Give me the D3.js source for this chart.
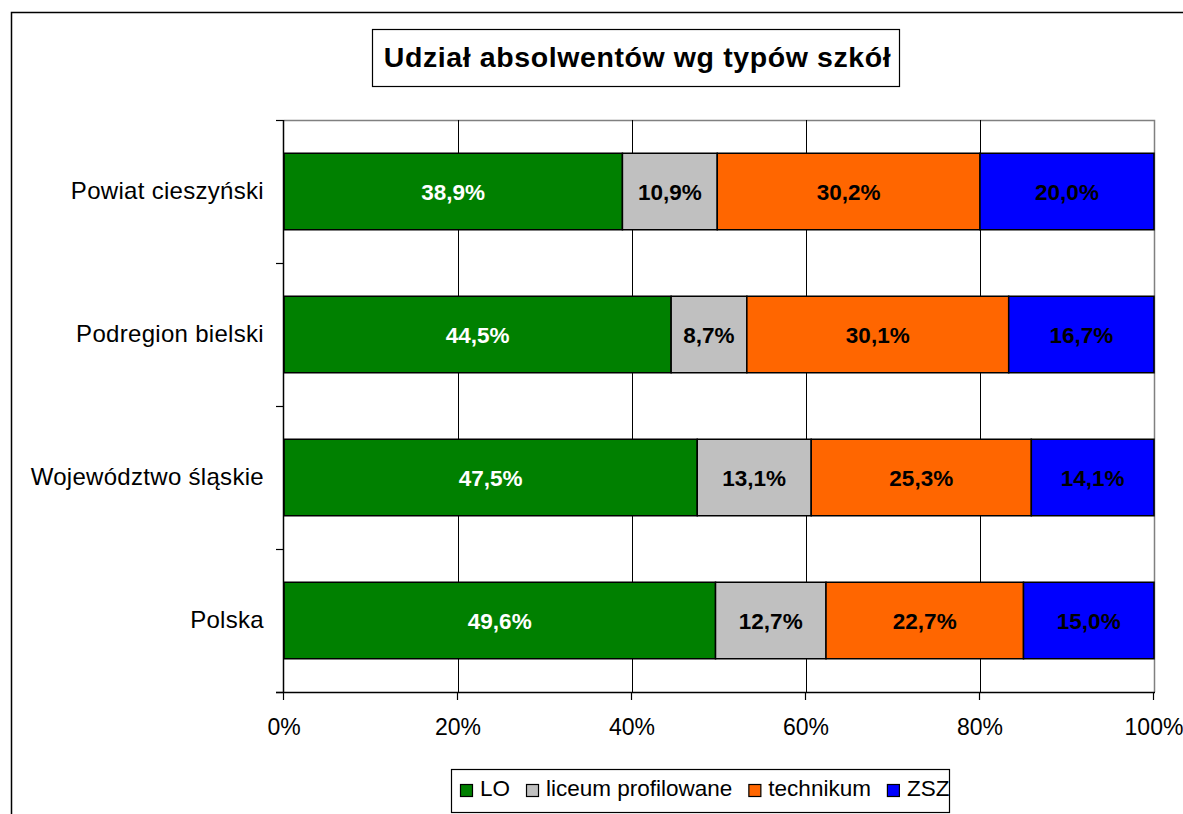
<!DOCTYPE html>
<html>
<head>
<meta charset="utf-8">
<script src="https://cdn.jsdelivr.net/npm/d3@7"></script>
<style>
  html, body { margin: 0; padding: 0; background: #fff; }
  svg { display: block; font-family: "Liberation Sans", Arial, sans-serif; }
</style>
</head>
<body>
<svg id="chart" width="1183" height="814"></svg>
<script>
const title = "Udział absolwentów wg typów szkół";
const categories = ["Powiat cieszyński", "Podregion bielski", "Województwo śląskie", "Polska"];
const seriesNames = ["LO", "liceum profilowane", "technikum", "ZSZ"];
const seriesColors = ["#008000", "#C0C0C0", "#FF6600", "#0000FF"];
const labelColors = ["#FFFFFF", "#000000", "#000000", "#000000"];
const LO = [38.9, 44.5, 47.5, 49.6];
const liceumProfilowane = [10.9, 8.7, 13.1, 12.7];
const technikum = [30.2, 30.1, 25.3, 22.7];
const ZSZ = [20.0, 16.7, 14.1, 15.0];
const tickValues = [0, 20, 40, 60, 80, 100];

const seriesValues = [LO, liceumProfilowane, technikum, ZSZ];

(function () {
const svg = d3.select("#chart");
const W = 1183, H = 814;

// outer chart border
svg.append("path")
  .attr("d", `M11.5,${H} L11.5,12.5 L${W},12.5`)
  .attr("fill", "none").attr("stroke", "#000").attr("stroke-width", 1.5);

// title
const tg = svg.append("g");
tg.append("rect").attr("x", 372.5).attr("y", 29.5).attr("width", 527).attr("height", 57)
  .attr("fill", "#fff").attr("stroke", "#000").attr("stroke-width", 1.2);
tg.append("text").attr("x", 637.5).attr("y", 66.5).attr("text-anchor", "middle")
  .attr("font-size", 28.5).attr("font-weight", "bold").attr("fill", "#000")
  .attr("letter-spacing", 0.6).text(title);

// scales
const pLeft = 284, pRight = 1154, pTop = 120, pBottom = 692;
const x = d3.scaleLinear().domain([0, 100]).range([pLeft, pRight]);
const y = d3.scaleBand().domain(categories).range([pTop, pBottom])
  .paddingInner(0.465).paddingOuter(0.2325);
const zone = d3.scaleBand().domain(categories).range([pTop, pBottom]).padding(0);

// plot area frame (top & right, gray)
svg.append("path")
  .attr("d", `M${pLeft},${pTop + 0.5} L${pRight + 0.5},${pTop + 0.5} L${pRight + 0.5},${pBottom}`)
  .attr("fill", "none").attr("stroke", "#808080").attr("stroke-width", 1.5);

// vertical gridlines
svg.append("g").selectAll("line").data(tickValues.filter(v => v > 0 && v < 100)).join("line")
  .attr("x1", d => Math.round(x(d)) + 0.5).attr("x2", d => Math.round(x(d)) + 0.5)
  .attr("y1", pTop).attr("y2", pBottom)
  .attr("stroke", "#000").attr("stroke-width", 1);

// stacked data
const stackData = categories.map((c, i) => {
  const o = { cat: c };
  seriesNames.forEach((s, j) => o[s] = seriesValues[j][i]);
  return o;
});
const stacked = d3.stack().keys(seriesNames)(stackData);

const bars = svg.append("g");
stacked.forEach((layer, j) => {
  const g = bars.append("g");
  g.selectAll("rect").data(layer).join("rect")
    .attr("x", d => x(d[0]))
    .attr("y", d => y(d.data.cat))
    .attr("width", d => x(d[1]) - x(d[0]))
    .attr("height", y.bandwidth())
    .attr("fill", seriesColors[j])
    .attr("stroke", "#000").attr("stroke-width", 1.5);
  g.selectAll("text").data(layer).join("text")
    .attr("x", d => (x(d[0]) + x(d[1])) / 2)
    .attr("y", d => y(d.data.cat) + y.bandwidth() / 2 + 8)
    .attr("text-anchor", "middle")
    .attr("font-size", 22.5).attr("font-weight", "bold")
    .attr("fill", labelColors[j])
    .text(d => d.data[seriesNames[j]].toFixed(1).replace(".", ",") + "%");
});

// y axis (left)
const yAxis = svg.append("g");
yAxis.append("line").attr("x1", pLeft - 0.5).attr("x2", pLeft - 0.5).attr("y1", pTop).attr("y2", pBottom)
  .attr("stroke", "#000").attr("stroke-width", 1.5);
const boundaries = categories.map(c => zone(c)).concat([pBottom]);
yAxis.selectAll("line.tk").data(boundaries).join("line").attr("class", "tk")
  .attr("x1", pLeft - 8).attr("x2", pLeft).attr("y1", d => d + 0.5).attr("y2", d => d + 0.5)
  .attr("stroke", "#000").attr("stroke-width", 1.2);
yAxis.selectAll("text").data(categories).join("text")
  .attr("x", 264).attr("y", d => zone(d) + zone.bandwidth() / 2 + 7.5)
  .attr("text-anchor", "end").attr("font-size", 24).attr("fill", "#000")
  .attr("letter-spacing", 0.3)
  .text(d => d);

// x axis (bottom)
const xAxis = svg.append("g");
xAxis.append("line").attr("x1", pLeft - 8).attr("x2", pRight + 1).attr("y1", pBottom + 0.5).attr("y2", pBottom + 0.5)
  .attr("stroke", "#000").attr("stroke-width", 1.5);
xAxis.selectAll("line.tk").data(tickValues).join("line").attr("class", "tk")
  .attr("x1", d => Math.round(x(d)) - 0.5).attr("x2", d => Math.round(x(d)) - 0.5)
  .attr("y1", pBottom).attr("y2", pBottom + 8)
  .attr("stroke", "#000").attr("stroke-width", 1.2);
xAxis.selectAll("text").data(tickValues).join("text")
  .attr("x", d => x(d)).attr("y", 735)
  .attr("text-anchor", "middle").attr("font-size", 23).attr("fill", "#000")
  .text(d => d + "%");

// legend
const lg = svg.append("g");
lg.append("rect").attr("x", 451.5).attr("y", 769.5).attr("width", 498).attr("height", 43)
  .attr("fill", "#fff").attr("stroke", "#000").attr("stroke-width", 1.2);
let lx = 460;
seriesNames.forEach((s, j) => {
  lg.append("rect").attr("x", lx + 0.5).attr("y", 784.5).attr("width", 12).attr("height", 12)
    .attr("fill", seriesColors[j]).attr("stroke", "#000").attr("stroke-width", 1.2);
  const t = lg.append("text").attr("x", lx + 20).attr("y", 796).attr("font-size", 22.5)
    .attr("fill", "#000").text(s);
  lx = lx + 20 + t.node().getComputedTextLength() + 16;
});
})();
</script>
</body>
</html>
